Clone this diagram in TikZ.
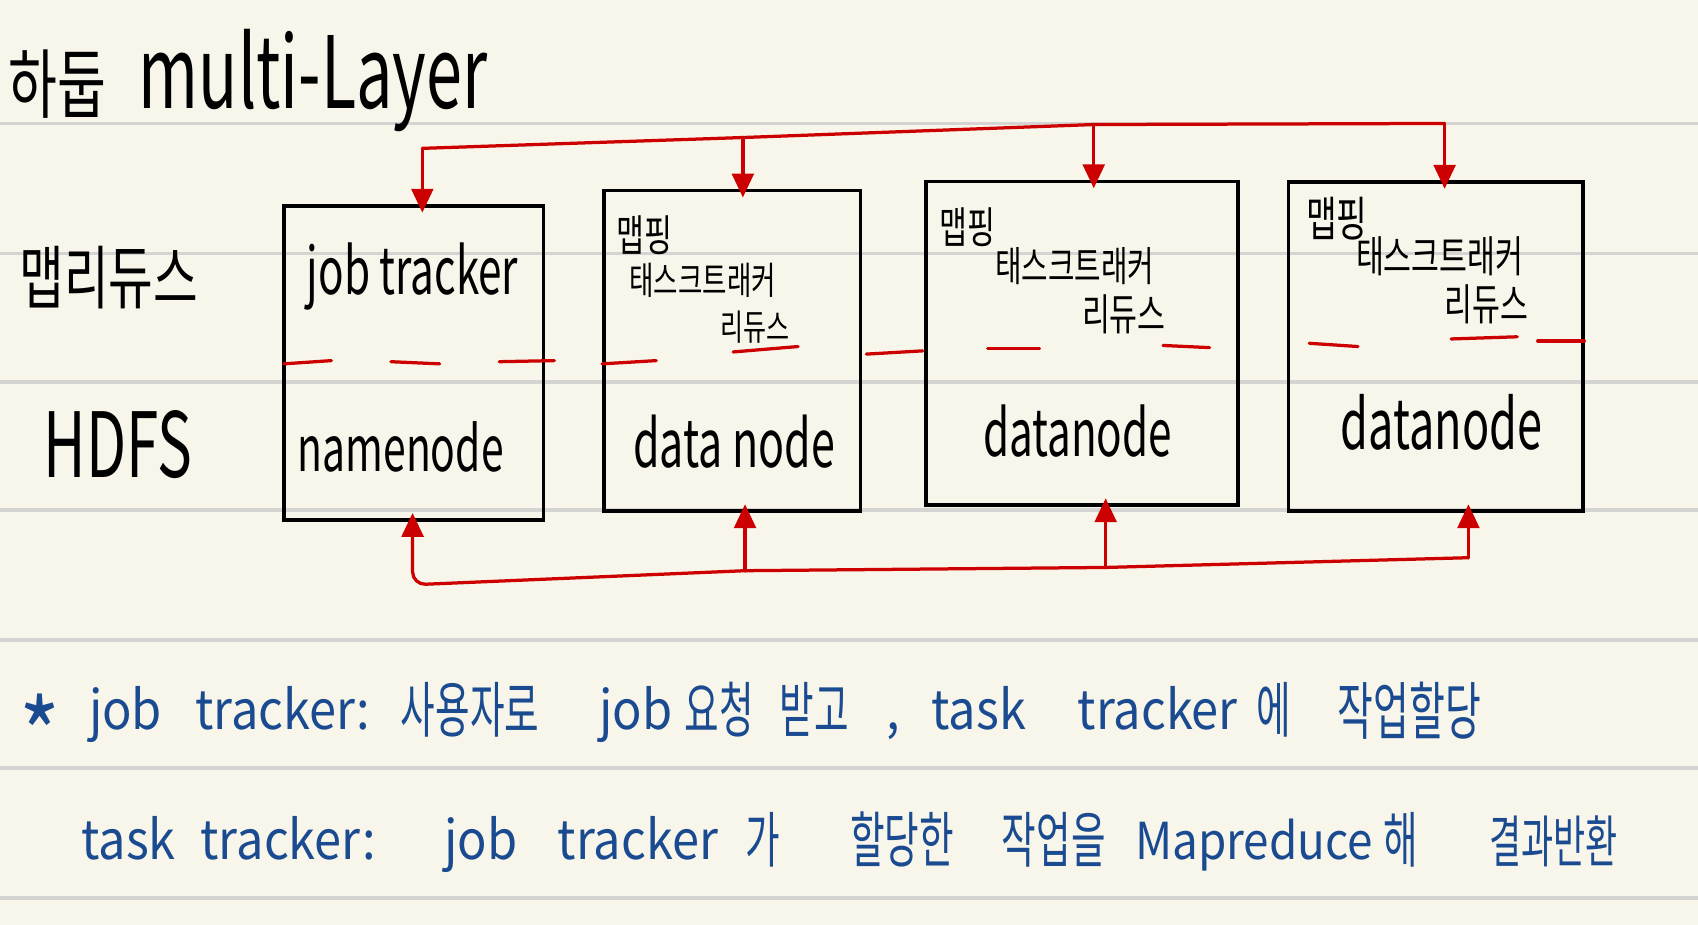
\documentclass[tikz,border=0pt]{standalone}
\usepackage{fontspec}
\setmainfont{Noto Sans CJK KR}
\newfontfamily\hL[FakeStretch=0.65]{Noto Sans CJK KR}
\newfontfamily\hK[FakeStretch=0.7]{Noto Sans CJK KR}
\newfontfamily\hKb[FakeStretch=0.62]{Noto Sans CJK KR}
\newfontfamily\hN[FakeStretch=0.9]{Noto Sans CJK KR}
\usetikzlibrary{arrows.meta}
\definecolor{paper}{RGB}{248,246,234}
\definecolor{rulegray}{RGB}{212,212,210}
\definecolor{pen}{RGB}{204,0,0}
\definecolor{ink}{RGB}{26,75,145}
\newcommand\fs[1]{\fontsize{#1}{#1}\selectfont}
\begin{document}
\begin{tikzpicture}[x=1pt,y=-1pt,
  box/.style={draw=black, line width=3.3pt, inner sep=0pt},
  lab/.style={inner sep=0pt, text=black},
  blu/.style={inner sep=0pt, text=ink, anchor=base west},
  redline/.style={draw=pen, line width=3pt, line cap=round, line join=round},
  arr/.style={redline, -{Triangle[width=20pt,length=22pt]}, shorten >=-8pt},
  dashseg/.style={draw=pen, line width=3pt, line cap=round}]
\fill[paper] (0,0) rectangle (1568,854);
\useasboundingbox (0,0) rectangle (1568,854);
\foreach \yy in {114,234,353,471,591,709,829}
  \draw[rulegray, line width=3.5pt] (0,\yy) -- (1568,\yy);

% title
\node[lab, anchor=base west, font=\hK\fs{70}] (tk) at (8,104) {하둡};
\node[lab, anchor=base west, font=\hL\fs{92}] (tl) at (128,100) {multi-Layer};

% left labels
\node[lab, anchor=base west, font=\hK\fs{64}] (mr) at (18,280) {맵리듀스};
\node[lab, anchor=base west, font=\hL\fs{83}] (hd) at (40,441) {HDFS};

% boxes
\node[box, minimum width=240pt, minimum height=290pt] (b1) at (382,335) {};
\node[box, minimum width=237pt, minimum height=296pt] (b2) at (676,324) {};
\node[box, minimum width=288pt, minimum height=299pt] (b3) at (999,317) {};
\node[box, minimum width=272pt, minimum height=304pt] (b4) at (1326,320) {};

% box 1 texts
\node[lab, anchor=base, font=\hL\fs{60}] (jt) at (381,272) {job tracker};
\node[lab, anchor=base, font=\hL\fs{58}] (nn) at (370,435) {namenode};
% box 2 texts
\node[lab, anchor=base west, font=\hK\fs{40}] (m2) at (569,232) {맵핑};
\node[lab, anchor=base west, font=\hK\fs{35}] (k2) at (581,272) {태스크트래커};
\node[lab, anchor=base west, font=\hK\fs{33}] (r2) at (665,314) {리듀스};
\node[lab, anchor=base, font=\hL\fs{61}] (d2) at (678,432) {data node};
% box 3 texts
\node[lab, anchor=base west, font=\hK\fs{40}] (m3) at (867,225) {맵핑};
\node[lab, anchor=base west, font=\hK\fs{38}] (k3) at (919,260) {태스크트래커};
\node[lab, anchor=base west, font=\hK\fs{40}] (r3) at (999,305) {리듀스};
\node[lab, anchor=base, font=\hL\fs{60}] (d3) at (995,422) {datanode};
% box 4 texts
\node[lab, anchor=base west, font=\hK\fs{44}] (m4) at (1206,218) {맵핑};
\node[lab, anchor=base west, font=\hK\fs{40}] (k4) at (1252,252) {태스크트래커};
\node[lab, anchor=base west, font=\hK\fs{40}] (r4) at (1334,296) {리듀스};
\node[lab, anchor=base, font=\hL\fs{64}] (d4) at (1331,415) {datanode};

% layer separator dashes
\draw[dashseg] (262,336) -- (306,333);
\draw[dashseg] (361,334) -- (406,336);
\draw[dashseg] (461,334) -- (512,333);
\draw[dashseg] (556,336) -- (606,333);
\draw[dashseg] (677,325) -- (737,320);
\draw[dashseg] (800,327) -- (852,324);
\draw[dashseg] (912,322) -- (960,322);
\draw[dashseg] (1074,319) -- (1117,321);
\draw[dashseg] (1209,317) -- (1254,320);
\draw[dashseg] (1340,313) -- (1401,311);
\draw[dashseg] (1420,315) -- (1463,315);

% top bus
\coordinate (ta) at (390,137);
\coordinate (tb) at (686,127);
\coordinate (tc) at (1010,115);
\coordinate (td) at (1334,114);
\draw[redline] (ta) -- (tb) -- (tc) -- (td);
\draw[arr] (ta) -- (ta |- b1.north);
\draw[arr] (tb) -- (tb |- b2.north);
\draw[arr] (tc) -- (tc |- b3.north);
\draw[arr] (td) -- (td |- b4.north);

% bottom bus
\coordinate (ba) at (381,540);
\coordinate (bb) at (688,527);
\coordinate (bc) at (1021,524);
\coordinate (bd) at (1356,515);
\draw[arr, rounded corners=12pt] (bb) -- (ba) -- (ba |- b1.south);
\draw[redline] (bb) -- (bc) -- (bd);
\draw[arr] (bb) -- (bb |- b2.south);
\draw[arr] (bc) -- (bc |- b3.south);
\draw[arr] (bd) -- (bd |- b4.south);

% notes line 1
\node[blu, font=\hN\fs{90}] (s0) at (18,712) {*};
\node[blu, font=\hN\fs{50}] (s1) at (82,674) {job};
\node[blu, font=\hN\fs{50}] (s2) at (180,674) {tracker:};
\node[blu, font=\hKb\fs{56}] (s3) at (370,676) {사용자로};
\node[blu, font=\hN\fs{50}] (s4) at (553,674) {job};
\node[blu, font=\hKb\fs{56}] (s5) at (632,676) {요청};
\node[blu, font=\hKb\fs{56}] (s6) at (720,676) {받고};
\node[blu, font=\hN\fs{50}] (s7) at (818,674) {,};
\node[blu, font=\hN\fs{50}] (s8) at (860,674) {task};
\node[blu, font=\hN\fs{50}] (s9) at (995,674) {tracker};
\node[blu, font=\hKb\fs{56}] (s10) at (1160,676) {에};
\node[blu, font=\hKb\fs{58}] (s11) at (1235,678) {작업할당};

% notes line 2
\node[blu, font=\hN\fs{50}] (u1) at (75,794) {task};
\node[blu, font=\hN\fs{50}] (u2) at (185,794) {tracker:};
\node[blu, font=\hN\fs{50}] (u3) at (410,794) {job};
\node[blu, font=\hN\fs{50}] (u4) at (515,794) {tracker};
\node[blu, font=\hKb\fs{56}] (u5) at (688,796) {가};
\node[blu, font=\hKb\fs{56}] (u6) at (785,796) {할당한};
\node[blu, font=\hKb\fs{56}] (u7) at (925,796) {작업을};
\node[blu, font=\hN\fs{47}] (u8) at (1048,794) {Mapreduce};
\node[blu, font=\hKb\fs{56}] (u9) at (1277,796) {해};
\node[blu, font=\hKb\fs{52}] (u10) at (1375,796) {결과반환};
\end{tikzpicture}
\end{document}
